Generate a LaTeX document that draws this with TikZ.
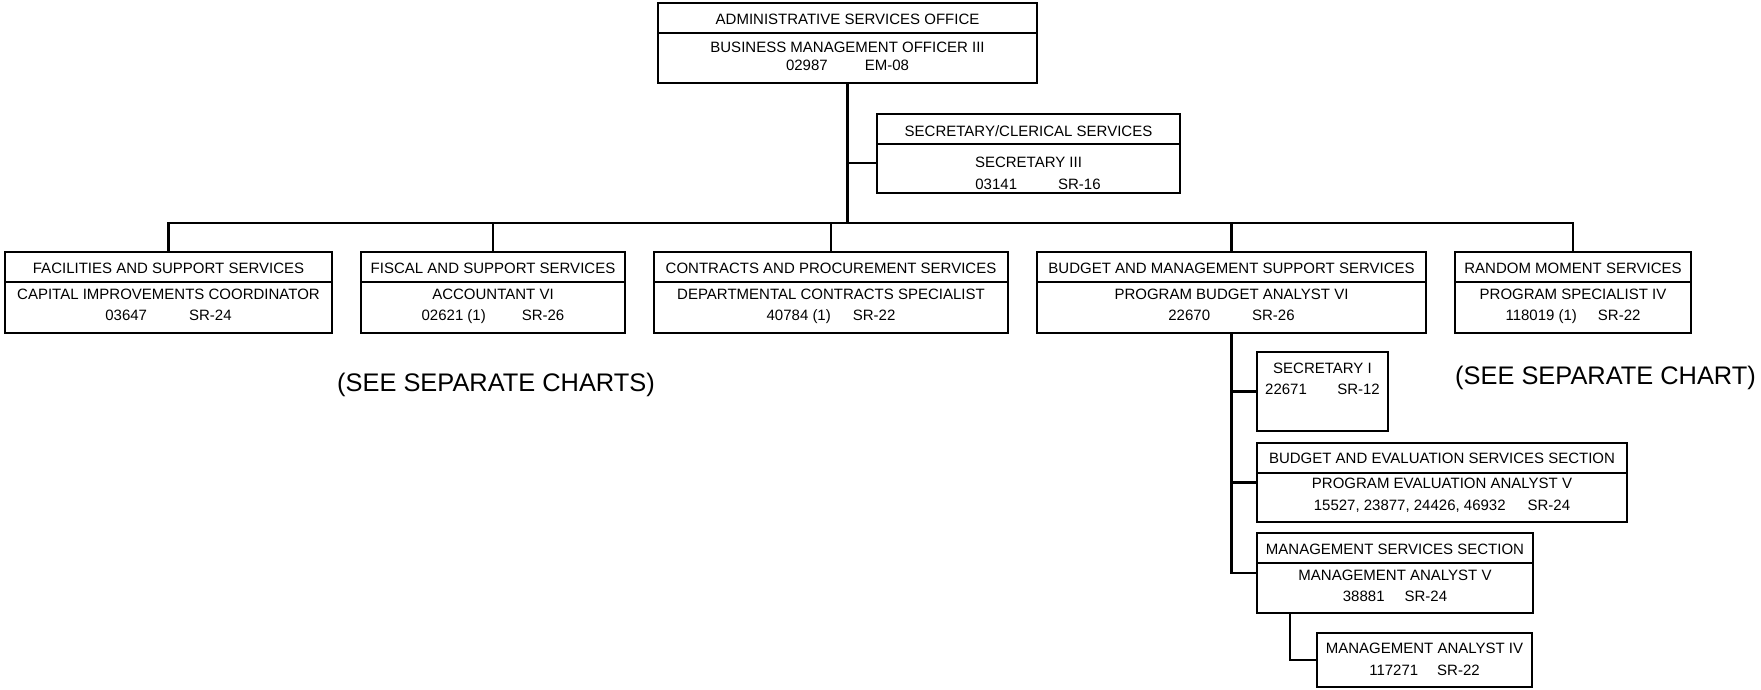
\documentclass[tikz,border=0pt]{standalone}
\usepackage{fontspec}
\setmainfont{Liberation Sans}
\tikzset{
  box/.style={draw, line width=2.6pt, inner sep=0pt, outer sep=0pt, rectangle},
  conn/.style={line width=2.6pt},
  divline/.style={line width=1.3pt},
  txt/.style={font=\fontsize{15}{18}\selectfont, inner sep=0pt, text height=10.7pt, text depth=0pt},
  big/.style={font=\fontsize{25.4}{30}\selectfont, inner sep=0pt, text height=18.2pt, text depth=0pt},
}
\begin{document}
\begin{tikzpicture}[x=1pt,y=-1pt]
\useasboundingbox (0,0) rectangle (1761,689);
\fill[white] (0,0) rectangle (1761,689);

% ---------- boxes ----------
\node[box, minimum width=379pt, minimum height=80pt] (top) at (847.5,43) {};
\node[box, minimum width=303pt, minimum height=79pt] (sec) at (1028.5,153.5) {};
\node[box, minimum width=327pt, minimum height=81pt] (b1) at (168.5,292.5) {};
\node[box, minimum width=264pt, minimum height=81pt] (b2) at (493,292.5) {};
\node[box, minimum width=354pt, minimum height=81pt] (b3) at (831,292.5) {};
\node[box, minimum width=389pt, minimum height=81pt] (b4) at (1231.5,292.5) {};
\node[box, minimum width=236pt, minimum height=81pt] (b5) at (1573,292.5) {};
\node[box, minimum width=131pt, minimum height=79pt] (s1) at (1322.5,391.5) {};
\node[box, minimum width=370pt, minimum height=79pt] (be) at (1442,482.5) {};
\node[box, minimum width=276pt, minimum height=80pt] (ms) at (1395,573) {};
\node[box, minimum width=215pt, minimum height=54pt] (m4) at (1424.5,660) {};

% ---------- dividers ----------
\draw[divline] (top.west |- 0,33) -- (top.east |- 0,33);
\draw[divline] (sec.west |- 0,144) -- (sec.east |- 0,144);
\foreach \b in {b1,b2,b3,b4,b5}{
  \draw[divline] (\b.west |- 0,282) -- (\b.east |- 0,282);
}
\draw[divline] (be.west |- 0,473) -- (be.east |- 0,473);
\draw[divline] (ms.west |- 0,563) -- (ms.east |- 0,563);

% ---------- connectors ----------
\coordinate (bus) at (847.5,223);
\coordinate (jsec) at (847.5,163);
\coordinate (msj) at (1290,613);
\draw[conn] (top.south) -- (bus);
\draw[conn] (jsec) -- (jsec -| sec.west);
\draw[conn] (b1.north) |- (bus) -| (b5.north);
\draw[conn] (b2.north) -- (b2.north |- bus);
\draw[conn] (b3.north) -- (b3.north |- bus);
\draw[conn] (b4.north) -- (b4.north |- bus);
\draw[conn] (b4.south) |- (ms.west);
\draw[conn] (b4.south |- s1.west) -- (s1.west);
\draw[conn] (b4.south |- be.west) -- (be.west);
\draw[conn] (msj) |- (m4.west);

% ---------- texts ----------
\node[txt] (topA) at (847.5,19) {ADMINISTRATIVE SERVICES OFFICE};
\node[txt] (topB) at (847.5,47) {BUSINESS MANAGEMENT OFFICER III};
\node[txt] (topC) at (847.5,65) {02987\hspace{37pt}EM-08};

\node[txt] (secA) at (1028.5,131) {SECRETARY/CLERICAL SERVICES};
\node[txt] (secB) at (1028.5,162) {SECRETARY III};
\node[txt] (secC) at (1038,184) {03141\hspace{41pt}SR-16};

\node[txt] (b1A) at (168.5,268) {FACILITIES AND SUPPORT SERVICES};
\node[txt] (b1B) at (168.5,294) {CAPITAL IMPROVEMENTS COORDINATOR};
\node[txt] (b1C) at (168.5,315) {03647\hspace{42pt}SR-24};

\node[txt] (b2A) at (493,268) {FISCAL AND SUPPORT SERVICES};
\node[txt] (b2B) at (493,294) {ACCOUNTANT VI};
\node[txt] (b2C) at (493,315) {02621 (1)\hspace{36pt}SR-26};

\node[txt] (b3A) at (831,268) {CONTRACTS AND PROCUREMENT SERVICES};
\node[txt] (b3B) at (831,294) {DEPARTMENTAL CONTRACTS SPECIALIST};
\node[txt] (b3C) at (831,315) {40784 (1)\hspace{22pt}SR-22};

\node[txt] (b4A) at (1231.5,268) {BUDGET AND MANAGEMENT SUPPORT SERVICES};
\node[txt] (b4B) at (1231.5,294) {PROGRAM BUDGET ANALYST VI};
\node[txt] (b4C) at (1231.5,315) {22670\hspace{42pt}SR-26};

\node[txt] (b5A) at (1573,268) {RANDOM MOMENT SERVICES};
\node[txt] (b5B) at (1573,294) {PROGRAM SPECIALIST IV};
\node[txt] (b5C) at (1573,315) {118019 (1)\hspace{21pt}SR-22};

\node[txt] (s1A) at (1322.5,368) {SECRETARY I};
\node[txt, anchor=west] (s1B) at (1265,389) {22671};
\node[txt, anchor=east] (s1C) at (1380,389) {SR-12};

\node[txt] (beA) at (1442,458) {BUDGET AND EVALUATION SERVICES SECTION};
\node[txt] (beB) at (1442,483) {PROGRAM EVALUATION ANALYST V};
\node[txt] (beC) at (1442,505) {15527, 23877, 24426, 46932\hspace{22pt}SR-24};

\node[txt] (msA) at (1395,549) {MANAGEMENT SERVICES SECTION};
\node[txt] (msB) at (1395,575) {MANAGEMENT ANALYST V};
\node[txt] (msC) at (1395,596) {38881\hspace{20pt}SR-24};

\node[txt] (m4A) at (1424.5,648) {MANAGEMENT ANALYST IV};
\node[txt] (m4B) at (1424.5,670) {117271\hspace{19pt}SR-22};

\node[big] (see1) at (496,382) {(SEE SEPARATE CHARTS)};
\node[big] (see2) at (1605.5,375) {(SEE SEPARATE CHART)};
\end{tikzpicture}
\end{document}
